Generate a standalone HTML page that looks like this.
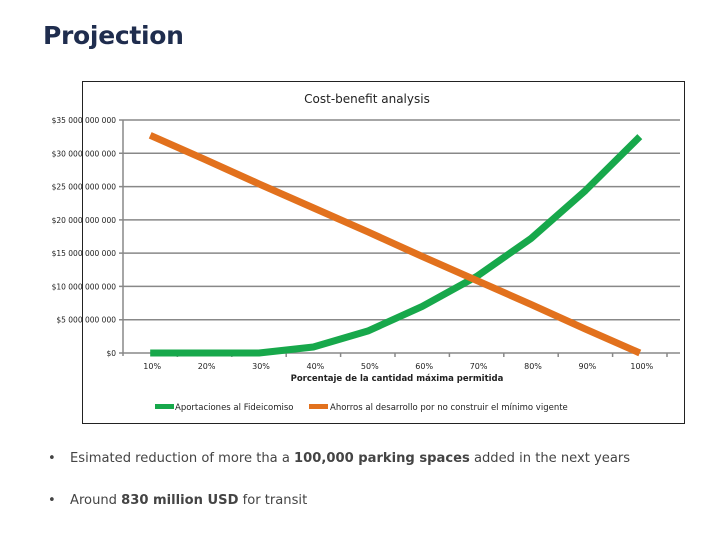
<!DOCTYPE html>
<html><head><meta charset="utf-8"><style>
body{margin:0;width:720px;height:540px;background:#fff;position:relative;font-family:"DejaVu Sans","Liberation Sans",sans-serif;overflow:hidden}
.title{position:absolute;left:43px;top:21px;font-size:25px;font-weight:bold;color:#1f2d4e;letter-spacing:-0.3px;font-family:"DejaVu Sans",sans-serif}
.b{position:absolute;left:48px;font-size:13.1px;color:#444}
.b span.d{position:absolute;left:0}
.b span.t{position:absolute;left:22px;white-space:nowrap}
</style></head><body>
<div class="title">Projection</div>
<svg id="c" width="720" height="540" style="position:absolute;left:0;top:0;font-family:'DejaVu Sans',sans-serif"></svg>
<div class="b" style="top:451px"><span class="d">•</span><span class="t">Esimated reduction of more tha a <b>100,000 parking spaces</b> added in the next years</span></div>
<div class="b" style="top:493px"><span class="d">•</span><span class="t">Around <b>830 million USD</b> for transit</span></div>
<script>
const categories=["10%","20%","30%","40%","50%","60%","70%","80%","90%","100%"];
const aportaciones=[0,0,0,0.9,3.3,7.0,11.5,17.2,24.4,32.5];
const ahorros=[32.7,29.1,25.4,21.8,18.2,14.5,10.9,7.3,3.6,0];
const yTicks=[0,5,10,15,20,25,30,35];
const yTickLabels=["$0","$5 000 000 000","$10 000 000 000","$15 000 000 000","$20 000 000 000","$25 000 000 000","$30 000 000 000","$35 000 000 000"];
const svg=document.getElementById('c');const NS='http://www.w3.org/2000/svg';
function el(t,a,txt){const e=document.createElementNS(NS,t);for(const k in a)e.setAttribute(k,a[k]);if(txt!==undefined)e.textContent=txt;svg.appendChild(e);return e;}
const L=123,R=667,T=120,B=353;
const y=v=>B-(v/35)*(B-T);
const step=(R-L)/categories.length;
const x=i=>L+step*(i+0.5);
let e=el('rect',{x:82.5,y:81.5,width:602,height:342,fill:'#fff',stroke:'#222','stroke-width':1});

e=el('text',{x:367,y:103,'font-size':12,'text-anchor':'middle',fill:'#222'},'Cost-benefit analysis');

yTicks.forEach((v,i)=>{
 e=el('line',{x1:L-4,x2:R+13,y1:y(v),y2:y(v),stroke:'#888','stroke-width':1.5});
 
 e=el('text',{x:116,y:y(v)+3,'font-size':7.5,'text-anchor':'end',fill:'#222'},yTickLabels[i]);
 
});
e=el('line',{x1:L,x2:L,y1:T,y2:B+3,stroke:'#888','stroke-width':1.5});

categories.forEach((c,i)=>{
 e=el('line',{x1:L+step*(i+1),x2:L+step*(i+1),y1:B,y2:B+4,stroke:'#888','stroke-width':1.5});
 
 e=el('text',{x:x(i)+2,y:369,'font-size':8,'text-anchor':'middle',fill:'#222'},c);
 
});
e=el('text',{x:397,y:381,'font-size':8.5,'font-weight':'bold','text-anchor':'middle',fill:'#222'},'Porcentaje de la cantidad máxima permitida');

function line(d,col,name){const p=el('polyline',{points:d.map((v,i)=>x(i)+','+y(v)).join(' '),fill:'none',stroke:col,'stroke-width':7,'stroke-linejoin':'round'});
 }
line(aportaciones,'#17a84b','series-aportaciones');
line(ahorros,'#e2711d','series-ahorros');
e=el('rect',{x:155,y:404,width:19,height:5,fill:'#17a84b'});

e=el('text',{x:175,y:410,'font-size':8.5,fill:'#222'},'Aportaciones al Fideicomiso');

e=el('rect',{x:309,y:404,width:19,height:5,fill:'#e2711d'});

e=el('text',{x:330,y:410,'font-size':8.5,fill:'#222'},'Ahorros al desarrollo por no construir el mínimo vigente');

</script>
</body></html>
